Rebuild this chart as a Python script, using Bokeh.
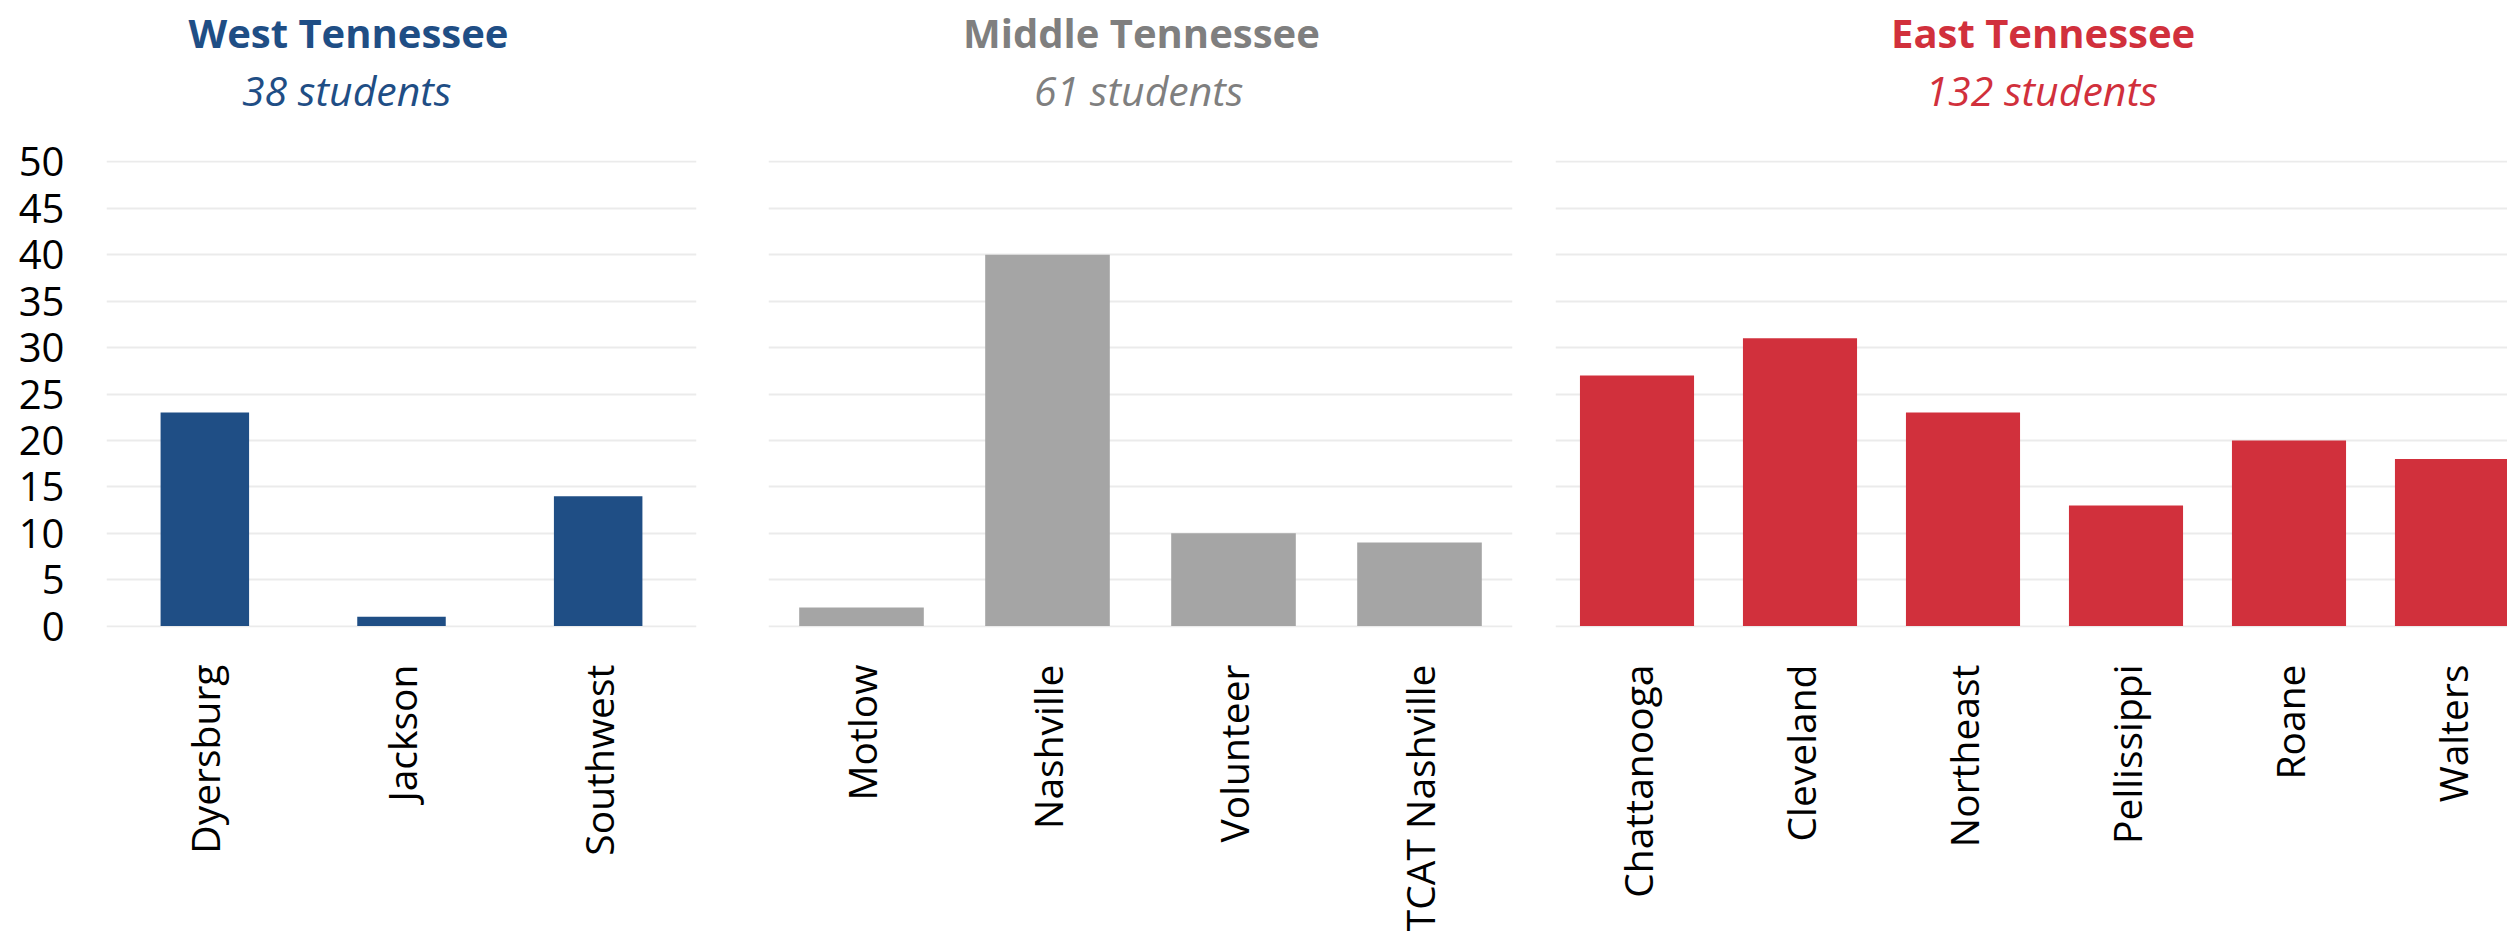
from bokeh.plotting import figure
from bokeh.models import Range1d, FixedTicker, Title
from bokeh.layouts import row
from bokeh.embed import file_html
from bokeh.resources import INLINE

# ---- data ----
west_names = ["Dyersburg", "Jackson", "Southwest"]
west_values = [23, 1, 14]
middle_names = ["Motlow", "Nashville", "Volunteer", "TCAT Nashville"]
middle_values = [2, 40, 10, 9]
east_names = ["Chattanooga", "Cleveland", "Northeast", "Pellissippi", "Roane", "Walters"]
east_values = [27, 31, 23, 13, 20, 18]
y_ticks = [0, 5, 10, 15, 20, 25, 30, 35, 40, 45, 50]
region_titles = ["West Tennessee", "Middle Tennessee", "East Tennessee"]
region_subtitles = ["38 students", "61 students", "132 students"]

FONT = "Open Sans"
BLUE = "#1F4E85"
GRAY_BAR = "#A5A5A5"
GRAY_TEXT = "#7F7F7F"
RED = "#D1303C"
GRID = "#EBEBEB"
FRAME_H = 467
TITLE_PX = 40
SUB_PX = 41


def make_panel(names, values, title, subtitle, bar_color, text_color, bar_width,
               x_end, frame_width, border_left, border_right, show_y,
               title_center, title_w, sub_w):
    xs = [i + 0.5 for i in range(len(names))]
    p = figure(frame_width=frame_width, frame_height=FRAME_H,
               x_range=Range1d(0, x_end), y_range=Range1d(-0.15, 50.15),
               output_backend="svg", toolbar_location=None,
               min_border_left=border_left, min_border_right=border_right,
               min_border_top=160, min_border_bottom=0,
               background_fill_color="white", border_fill_color="white")
    p.outline_line_color = None
    p.vbar(x=xs, top=values, width=bar_width, bottom=0,
           fill_color=bar_color, line_color=None)

    # x axis
    p.xaxis.ticker = FixedTicker(ticks=xs)
    p.xaxis.major_label_overrides = {x: n for x, n in zip(xs, names)}
    p.xaxis.major_label_orientation = 3.14159265 / 2
    p.xaxis.major_label_text_font = FONT
    p.xaxis.major_label_text_font_size = "39px"
    p.xaxis.major_label_text_color = "#000000"
    p.xaxis.major_label_standoff = 31
    p.xaxis.axis_line_color = None
    p.xaxis.major_tick_line_color = None
    p.xaxis.minor_tick_line_color = None
    p.xgrid.grid_line_color = None

    # y axis
    p.yaxis.ticker = FixedTicker(ticks=y_ticks)
    p.yaxis.major_label_text_font = FONT
    p.yaxis.major_label_text_font_size = "40px"
    p.yaxis.major_label_text_color = "#000000"
    p.yaxis.major_label_standoff = 36
    p.yaxis.axis_line_color = None
    p.yaxis.major_tick_line_color = None
    p.yaxis.minor_tick_line_color = None
    p.yaxis.visible = show_y
    p.ygrid.grid_line_color = GRID
    p.ygrid.grid_line_width = 2
    p.ygrid.ticker = FixedTicker(ticks=y_ticks)

    # titles: main title (outermost), subtitle, blank spacer next to the plot
    p.title.text = title
    p.title.align = "left"
    p.title.offset = title_center - title_w / 2 - 5
    p.title.text_font = FONT
    p.title.text_font_style = "bold"
    p.title.text_font_size = f"{TITLE_PX}px"
    p.title.text_color = text_color
    p.title.standoff = 0
    spacer = Title(text=" ", text_font_size="1px", standoff=40)
    p.add_layout(spacer, "above")
    sub = Title(text=subtitle, align="left", offset=title_center - sub_w / 2 - 5,
                text_font=FONT, text_font_style="italic",
                text_font_size=f"{SUB_PX}px", text_color=text_color, standoff=0)
    p.add_layout(sub, "above")
    return p


# title_center is measured from the left edge of each plotting area
p1 = make_panel(west_names, west_values, region_titles[0], region_subtitles[0],
                BLUE, BLUE, 0.45, 3, 590, 106, 52, True, 244, 314, 207)
p2 = make_panel(middle_names, middle_values, region_titles[1], region_subtitles[1],
                GRAY_BAR, GRAY_TEXT, 0.67, 4, 744, 20, 18, False, 374, 349, 207)
p3 = make_panel(east_names, east_values, region_titles[2], region_subtitles[2],
                RED, RED, 0.7, 952 / 163.0, 952, 25, 0, False, 490, 299, 230)

layout = row(p1, p2, p3)
open("out.html", "w").write(file_html(layout, INLINE))
